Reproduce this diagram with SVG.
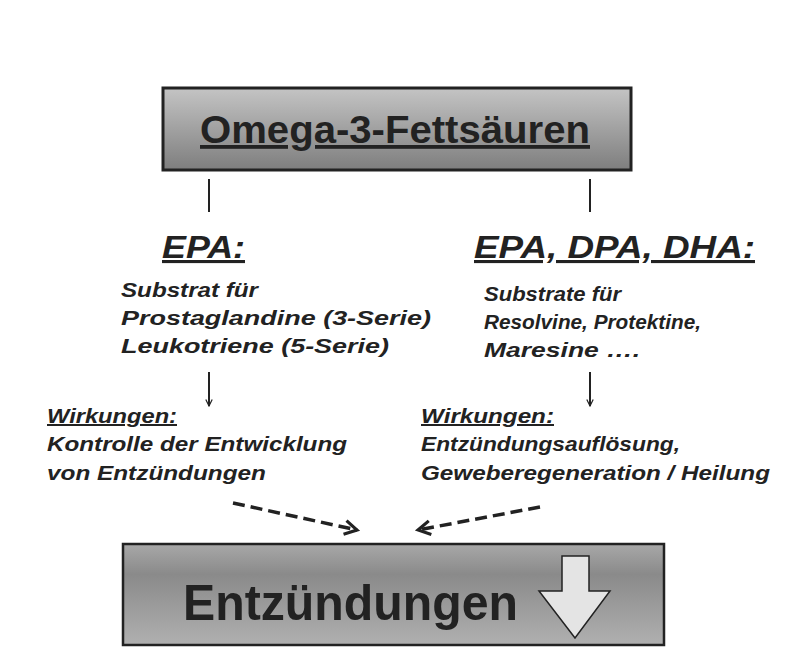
<svg xmlns="http://www.w3.org/2000/svg" width="808" height="662" viewBox="0 0 808 662">
<defs>
<linearGradient id="g1" x1="0" y1="0" x2="0" y2="1"><stop offset="0" stop-color="#c4c4c4"/><stop offset="1" stop-color="#7e7e7e"/></linearGradient>
<linearGradient id="g2" x1="0" y1="0" x2="0" y2="1"><stop offset="0" stop-color="#a8a8a8"/><stop offset="0.3" stop-color="#8a8a8a"/><stop offset="1" stop-color="#b0b0b0"/></linearGradient>
<marker id="ah" viewBox="0 0 10 10" refX="9" refY="5" markerWidth="8" markerHeight="8" markerUnits="userSpaceOnUse" orient="auto"><path d="M1,1 L9,5 L1,9" fill="none" stroke="#222" stroke-width="1.5"/></marker>
<marker id="ah2" viewBox="0 0 10 10" refX="8" refY="5" markerWidth="5" markerHeight="5" orient="auto"><path d="M1,1 L8,5 L1,9" fill="none" stroke="#222" stroke-width="1.8"/></marker>
</defs>
<style>
text{font-family:"Liberation Sans",Arial,sans-serif;fill:#222;font-weight:bold}
.h{font-size:31px;font-style:italic;text-decoration:underline}
.b{font-size:20px;font-style:italic}
.l{stroke:#222;stroke-width:2;fill:none}
</style>
<g id="top"><rect x="163" y="88" width="468" height="82" fill="url(#g1)" stroke="#222" stroke-width="3"/>
<text x="200" y="143" font-size="38" text-decoration="underline" textLength="390" lengthAdjust="spacingAndGlyphs">Omega-3-Fettsäuren</text></g>
<g id="left">
<text class="h" x="162" y="258" textLength="83" lengthAdjust="spacingAndGlyphs">EPA:</text>
<text class="b" x="121" y="297" textLength="137" lengthAdjust="spacingAndGlyphs">Substrat für</text>
<text class="b" x="121" y="325" textLength="310" lengthAdjust="spacingAndGlyphs">Prostaglandine (3-Serie)</text>
<text class="b" x="121" y="353" textLength="268" lengthAdjust="spacingAndGlyphs">Leukotriene (5-Serie)</text>
<text class="b" x="47" y="423" text-decoration="underline" textLength="130" lengthAdjust="spacingAndGlyphs">Wirkungen:</text>
<text class="b" x="47" y="451" textLength="300" lengthAdjust="spacingAndGlyphs">Kontrolle der Entwicklung</text>
<text class="b" x="47" y="480" textLength="219" lengthAdjust="spacingAndGlyphs">von Entzündungen</text>
</g>
<g id="right">
<text class="h" x="474" y="258" textLength="281" lengthAdjust="spacingAndGlyphs">EPA, DPA, DHA:</text>
<text class="b" x="484" y="301" textLength="137" lengthAdjust="spacingAndGlyphs">Substrate für</text>
<text class="b" x="484" y="329" textLength="217" lengthAdjust="spacingAndGlyphs">Resolvine, Protektine,</text>
<text class="b" x="484" y="357" textLength="156" lengthAdjust="spacingAndGlyphs">Maresine  ….</text>
<text class="b" x="421" y="423" text-decoration="underline" textLength="133" lengthAdjust="spacingAndGlyphs">Wirkungen:</text>
<text class="b" x="421" y="451" textLength="259" lengthAdjust="spacingAndGlyphs">Entzündungsauflösung,</text>
<text class="b" x="421" y="480" textLength="349" lengthAdjust="spacingAndGlyphs">Geweberegeneration / Heilung</text>
</g>
<g id="bottom"><rect x="123" y="544" width="541" height="101" fill="url(#g2)" stroke="#222" stroke-width="2.5"/>
<text x="183" y="620" font-size="50" textLength="335" lengthAdjust="spacingAndGlyphs">Entzündungen</text>
<path d="M562,556 H589 V591 H610 L575,638 L539,591 H562 Z" fill="#e4e4e4" stroke="#222" stroke-width="1.5"/></g>
<g id="connectors">
<line class="l" x1="209" y1="179" x2="209" y2="212"/>
<line class="l" x1="590" y1="179" x2="590" y2="212"/>
<line class="l" x1="209" y1="372" x2="209" y2="406" marker-end="url(#ah)"/>
<line class="l" x1="590" y1="372" x2="590" y2="406" marker-end="url(#ah)"/>
<line x1="233" y1="503" x2="357" y2="530" stroke="#222" stroke-width="3.5" stroke-dasharray="12,6" marker-end="url(#ah2)"/>
<line x1="540" y1="507" x2="418" y2="530" stroke="#222" stroke-width="3.5" stroke-dasharray="12,6" marker-end="url(#ah2)"/>
</g>
</svg>
